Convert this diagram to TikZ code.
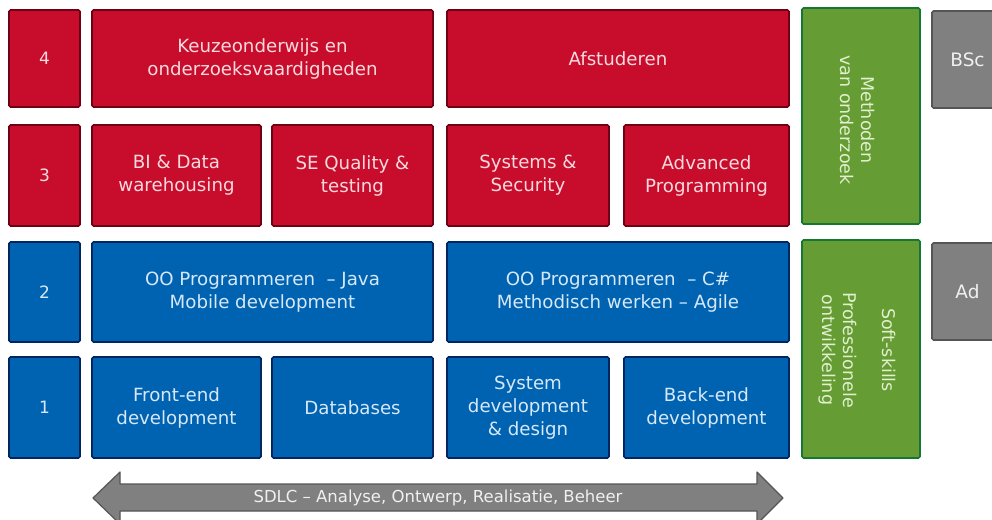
\documentclass[tikz,border=0pt]{standalone}
\usepackage{fontspec}
\setmainfont{DejaVu Sans}
\definecolor{redfill}{RGB}{200,12,44}
\definecolor{redline}{RGB}{110,0,22}
\definecolor{redtext}{RGB}{248,218,222}
\definecolor{bluefill}{RGB}{0,99,177}
\definecolor{blueline}{RGB}{0,38,95}
\definecolor{bluetext}{RGB}{215,232,248}
\definecolor{greenfill}{RGB}{102,156,52}
\definecolor{greenline}{RGB}{20,120,50}
\definecolor{greentext}{RGB}{225,240,205}
\definecolor{grayfill}{RGB}{128,128,128}
\definecolor{grayline}{RGB}{85,85,85}
\definecolor{graytext}{RGB}{240,240,240}
\tikzset{
  box/.style={draw, line width=1.6pt, rounded corners=1.5pt, inner sep=0pt, align=center,
    font=\fontsize{18.2}{23}\selectfont},
  redbox/.style={box, fill=redfill, draw=redline, text=redtext},
  bluebox/.style={box, fill=bluefill, draw=blueline, text=bluetext},
  greenbox/.style={box, fill=greenfill, draw=greenline, text=greentext},
  graybox/.style={box, fill=grayfill, draw=grayline, text=graytext},
  numfont/.style={font=\fontsize{17}{20}\selectfont},
  degfont/.style={font=\fontsize{18.5}{22}\selectfont},
  rottext/.style={rotate=-90, align=center, text=greentext, font=\fontsize{17.5}{21}\selectfont},
  arrowshape/.style={fill=grayfill, draw=grayline, line width=1.2pt, line join=round},
  arrowtext/.style={text=graytext, font=\fontsize{16.5}{20}\selectfont}
}
% \blk{name}{style}{x1}{y1}{x2}{y2}{text}
\newcommand\blk[7]{%
  \node[#2, minimum width={(#5-#3)*1pt}, minimum height={(#6-#4)*1pt}]
    (#1) at ({(#3+#5)/2},{(#4+#6)/2}) {#7};}
\begin{document}
\begin{tikzpicture}[x=1pt, y=-1pt]
\useasboundingbox (0,0) rectangle (992,519);
\clip (0,0) rectangle (992,519);
% row 4
\blk{n4}{redbox,numfont}{9}{10}{80}{107}{4}
\blk{keuze}{redbox}{92}{10}{433}{107}{Keuzeonderwijs en\\onderzoeksvaardigheden}
\blk{afst}{redbox}{447}{10}{789}{107}{Afstuderen}
% row 3
\blk{n3}{redbox,numfont}{9}{125}{80}{226}{3}
\blk{bi}{redbox}{92}{125}{261}{226}{BI \& Data\\warehousing}
\blk{se}{redbox}{272}{125}{433}{226}{SE Quality \&\\testing}
\blk{sys}{redbox}{447}{125}{609}{226}{Systems \&\\Security}
\blk{adv}{redbox}{624}{125}{789}{226}{Advanced\\Programming}
% row 2
\blk{n2}{bluebox,numfont}{9}{242}{80}{342}{2}
\blk{java}{bluebox}{92}{242}{433}{342}{OO Programmeren \ -- Java\\Mobile development}
\blk{csharp}{bluebox}{447}{242}{789}{342}{OO Programmeren \ -- C\#\\Methodisch werken -- Agile}
% row 1
\blk{n1}{bluebox,numfont}{9}{357}{80}{458}{1}
\blk{front}{bluebox}{92}{357}{261}{458}{Front-end\\development}
\blk{db}{bluebox}{272}{357}{433}{458}{Databases}
\blk{sdd}{bluebox}{447}{357}{609}{458}{System\\development\\\& design}
\blk{back}{bluebox}{624}{357}{789}{458}{Back-end\\development}
% green columns
\blk{meth}{greenbox}{802}{8}{920}{224}{}
\node[rottext] (methtxt) at (858,120) {Methoden\\van onderzoek};
\blk{soft}{greenbox}{802}{240}{920}{458}{}
\node[rottext] (softtxt) at (857,350) {Soft-skills\\[18pt]Professionele\\ontwikkeling};
% gray degree boxes
\blk{bsc}{graybox,degfont}{932}{11}{1003}{108}{BSc}
\blk{ad}{graybox,degfont}{932}{243}{1003}{340}{Ad}
% SDLC arrow
\draw[arrowshape] (93,498) -- (120,472) -- (120,484) -- (757,484) -- (757,472)
  -- (783,498) -- (757,524) -- (757,511) -- (120,511) -- (120,524) -- cycle;
\node[arrowtext] (sdlc) at (438,497.5) {SDLC -- Analyse, Ontwerp, Realisatie, Beheer};
\end{tikzpicture}
\end{document}
